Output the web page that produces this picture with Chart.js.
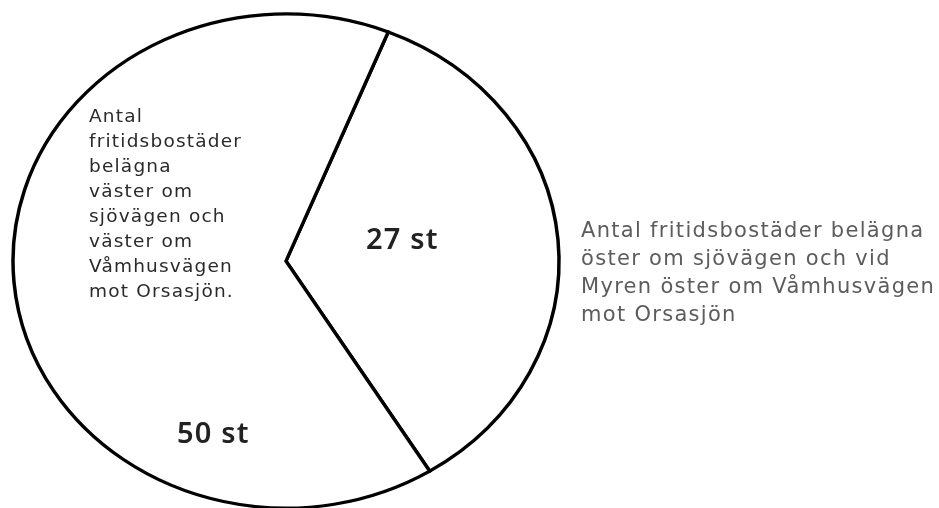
<!DOCTYPE html>
<html lang="sv">
<head>
<meta charset="utf-8">
<script src="https://cdn.jsdelivr.net/npm/chart.js@4/dist/chart.umd.min.js"></script>
<style>
  html, body { margin: 0; padding: 0; background: #fff; }
  #wrap { position: relative; width: 939px; height: 508px; overflow: hidden; }
  #pie { position: absolute; left: 0; top: 0; }
  .txt { position: absolute; white-space: nowrap; font-family: "DejaVu Sans", sans-serif; }
  #txtVast { left: 89px; top: 103px; font-size: 18.5px; line-height: 25px; letter-spacing: 1.2px; color: #2a2a2a; }
  #txtOst { left: 581px; top: 216px; font-size: 21px; line-height: 28px; letter-spacing: 1.3px; color: #5c5c5c; }
  .antal { font-family: "Noto Sans", sans-serif; font-size: 29px; line-height: 28px; letter-spacing: 1.2px; color: #222; font-weight: 600; }
  #antalOst { left: 366px; top: 224px; }
  #antalVast { left: 177px; top: 418px; }
</style>
</head>
<body>
<div id="wrap">
  <canvas id="pie" width="939" height="508"></canvas>
  <div class="txt" id="txtVast"></div>
  <div class="txt" id="txtOst"></div>
  <div class="txt antal" id="antalOst"></div>
  <div class="txt antal" id="antalVast"></div>
</div>
<script>
// Fritidsbostäder öster resp. väster om sjövägen
const kategorier = ['Öster', 'Väster'];
const antal = [27, 50];
const beskrivning = [
  ['Antal fritidsbostäder belägna', 'öster om sjövägen och vid', 'Myren öster om Våmhusvägen', 'mot Orsasjön'],
  ['Antal', 'fritidsbostäder', 'belägna', 'väster om', 'sjövägen och', 'väster om', 'Våmhusvägen', 'mot Orsasjön.']
];

// cirkeln är lite hoptryckt på höjden
const hojdFaktor = 0.905;

const ovalPlugin = {
  id: 'oval',
  beforeDatasetsDraw(chart) {
    const arc = chart.getDatasetMeta(0).data[0];
    const ctx = chart.ctx;
    ctx.save();
    ctx.translate(arc.x, arc.y);
    ctx.scale(1, hojdFaktor);
    ctx.translate(-arc.x, -arc.y);
  },
  afterDatasetsDraw(chart) {
    chart.ctx.restore();
  }
};

new Chart(document.getElementById('pie'), {
  type: 'pie',
  data: {
    labels: kategorier,
    datasets: [{
      data: antal,
      backgroundColor: '#ffffff',
      borderColor: '#000000',
      borderWidth: 3.5,
      borderJoinStyle: 'miter'
    }]
  },
  options: {
    responsive: false,
    animation: false,
    rotation: 22,
    radius: 273,
    layout: { padding: { left: 0, right: 367, top: 14, bottom: 0 } },
    plugins: {
      legend: { display: false },
      tooltip: { enabled: false }
    }
  },
  plugins: [ovalPlugin]
});

// texterna
document.getElementById('txtOst').innerHTML = beskrivning[0].join('<br>');
document.getElementById('txtVast').innerHTML = beskrivning[1].join('<br>');
document.getElementById('antalOst').textContent = antal[0] + ' st';
document.getElementById('antalVast').textContent = antal[1] + ' st';
</script>
</body>
</html>
